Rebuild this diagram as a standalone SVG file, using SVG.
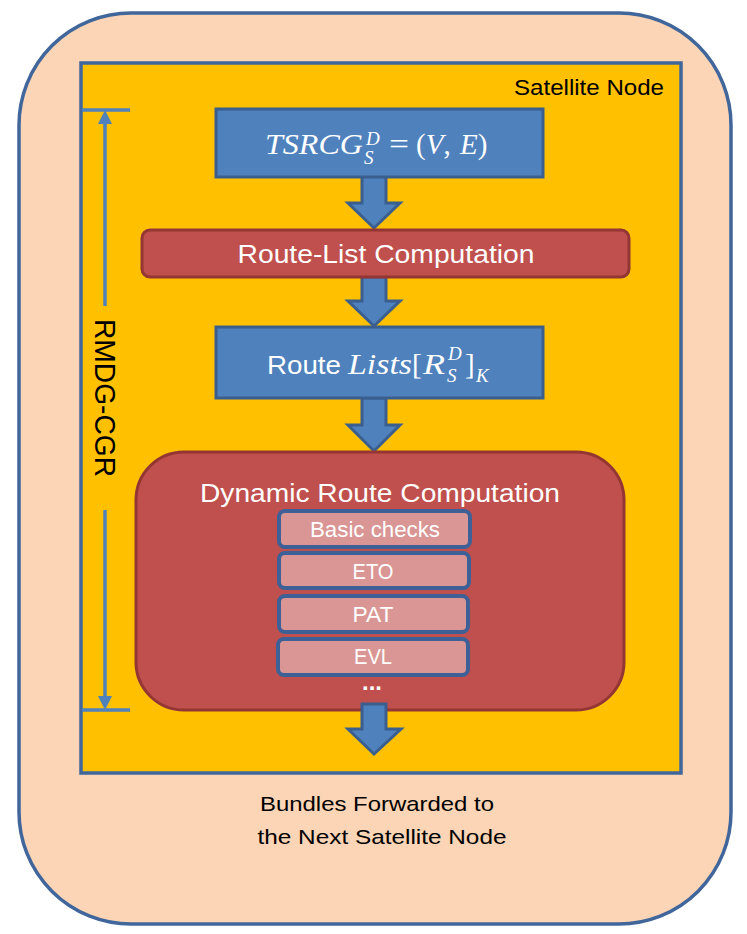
<svg xmlns="http://www.w3.org/2000/svg" width="747" height="934" viewBox="0 0 747 934">
<style>
.sans{font-family:"Liberation Sans",Arial,sans-serif}
.math{font-family:"Liberation Serif","Times New Roman",serif;fill:#fff}
.blue{fill:#4f81bd;stroke:#3a5f8f;stroke-width:3}
.red{fill:#c0504d;stroke:#943634;stroke-width:3}
.sub{fill:#d99694;stroke:#3d6096;stroke-width:4}
.wt{fill:#fff;text-anchor:middle}
.dim{stroke:#4f81bd;stroke-width:3.5;fill:none}
</style>
<g id="outer">
<rect x="19" y="13" width="712" height="911" rx="112" ry="112" fill="#fbd5b5" stroke="#41669b" stroke-width="3.5"/>
</g>
<g id="satellite-node">
<rect x="81" y="63" width="600" height="710" fill="#ffc000" stroke="#41669b" stroke-width="3.5"/>
<text class="sans" x="664" y="95" font-size="22" text-anchor="end" textLength="150" lengthAdjust="spacingAndGlyphs">Satellite Node</text>
</g>
<g id="connectors">
<polygon class="blue" points="362,176 386,176 386,203 400,203 374,228 348,203 362,203"/>
<polygon class="blue" points="362,277 386,277 386,301 400,301 374,326 348,301 362,301"/>
<polygon class="blue" points="362,398 386,398 386,425 400,425 374,451 348,425 362,425"/>
</g>
<g id="tsrcg">
<rect class="blue" x="216" y="109" width="327" height="68"/>
<text class="math" font-size="29" y="154"><tspan x="265" font-style="italic" textLength="98" lengthAdjust="spacingAndGlyphs">TSRCG</tspan><tspan x="366" y="145" font-size="19" font-style="italic">D</tspan><tspan x="364" y="164" font-size="19" font-style="italic">S</tspan><tspan x="389" y="154" textLength="20" lengthAdjust="spacingAndGlyphs">=</tspan><tspan x="416" y="154">(</tspan><tspan font-style="italic">V</tspan><tspan>,</tspan><tspan x="460" font-style="italic">E</tspan><tspan>)</tspan></text>
</g>
<g id="route-list-computation">
<rect class="red" x="142" y="230" width="487" height="47" rx="8" ry="8"/>
<text class="sans wt" x="386" y="263" font-size="25" textLength="297" lengthAdjust="spacingAndGlyphs">Route-List Computation</text>
</g>
<g id="route-lists">
<rect class="blue" x="216" y="327" width="327" height="71"/>
<text class="sans" x="267" y="374" font-size="25" fill="#fff" textLength="74" lengthAdjust="spacingAndGlyphs">Route</text>
<text class="math" font-size="29" y="374"><tspan x="348" font-style="italic" textLength="64" lengthAdjust="spacingAndGlyphs">Lists</tspan><tspan x="412">[</tspan><tspan x="423" font-style="italic" textLength="22" lengthAdjust="spacingAndGlyphs">R</tspan><tspan x="448" y="360" font-size="19" font-style="italic">D</tspan><tspan x="447" y="382" font-size="19" font-style="italic">S</tspan><tspan x="465" y="374">]</tspan><tspan x="476" y="382" font-size="19" font-style="italic">K</tspan></text>
</g>
<g id="rmdg-cgr">
<line class="dim" x1="82" y1="110" x2="130" y2="110"/>
<line class="dim" x1="82" y1="710" x2="130" y2="710"/>
<line class="dim" x1="105" y1="120" x2="105" y2="306"/>
<line class="dim" x1="105" y1="510" x2="105" y2="700"/>
<polygon points="105,110 98,124 112,124" fill="#4f81bd"/>
<polygon points="105,710 98,696 112,696" fill="#4f81bd"/>
<text class="sans" x="0" y="0" font-size="29" text-anchor="middle" transform="translate(95,398) rotate(90)" textLength="158" lengthAdjust="spacingAndGlyphs">RMDG-CGR</text>
</g>
<g id="dynamic-route-computation">
<rect class="red" x="136" y="452" width="488" height="258" rx="48" ry="48"/>
<text class="sans wt" x="380" y="502" font-size="26" textLength="360" lengthAdjust="spacingAndGlyphs">Dynamic Route Computation</text>
</g>
<g id="basic-checks">
<rect class="sub" x="279" y="511" width="191" height="36" rx="6" ry="6"/>
<text class="sans wt" x="375" y="537" font-size="22" textLength="130" lengthAdjust="spacingAndGlyphs">Basic checks</text>
</g>
<g id="eto">
<rect class="sub" x="279" y="553" width="190" height="35" rx="6" ry="6"/>
<text class="sans wt" x="373" y="579" font-size="22" textLength="41" lengthAdjust="spacingAndGlyphs">ETO</text>
</g>
<g id="pat">
<rect class="sub" x="279" y="596" width="189" height="36" rx="6" ry="6"/>
<text class="sans wt" x="373" y="622" font-size="22" textLength="41" lengthAdjust="spacingAndGlyphs">PAT</text>
</g>
<g id="evl">
<rect class="sub" x="278" y="639" width="190" height="36" rx="6" ry="6"/>
<text class="sans wt" x="373" y="664" font-size="22" textLength="38" lengthAdjust="spacingAndGlyphs">EVL</text>
<text class="sans wt" x="372" y="690" font-size="24" font-weight="bold" textLength="20" lengthAdjust="spacingAndGlyphs">...</text>
</g>
<g id="output-arrow">
<polygon class="blue" points="362,704 386,704 386,729 401,729 374,754 348,729 362,729"/>
</g>
<g id="bundles-forwarded">
<text class="sans" x="377" y="811" font-size="21" text-anchor="middle" textLength="234" lengthAdjust="spacingAndGlyphs">Bundles Forwarded to</text>
<text class="sans" x="382" y="844" font-size="21" text-anchor="middle" textLength="249" lengthAdjust="spacingAndGlyphs">the Next Satellite Node</text>
</g>
</svg>
